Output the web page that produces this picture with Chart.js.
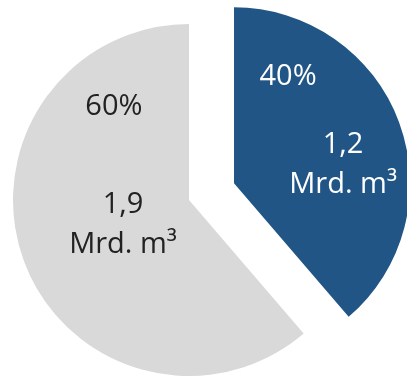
<!DOCTYPE html>
<html>
<head>
<meta charset="utf-8">
<script src="https://cdn.jsdelivr.net/npm/chart.js@4/dist/chart.umd.min.js"></script>
<style>
  html, body { margin: 0; padding: 0; background: #ffffff; }
  #wrap { width: 407px; height: 377px; }
</style>
</head>
<body>
<div id="wrap"><canvas id="c" width="407" height="377"></canvas></div>
<script>
// ---- data ----
const categories = ['Anteil A', 'Anteil B'];
const values = [1.2, 1.9];              // Mrd. m³
const percentLabels = ['40%', '60%'];
const unitLabel = 'Mrd. m³';

// ---- styles ----
const sliceColors = ['#215586', '#d9d9d9'];
const textColors = ['#ffffff', '#222222'];
const explode = [48, 0];
// label anchors: [fraction along slice angle, fraction of radius]
const pctPos = [[0.207, 0.637], [0.812, 0.644]];
const valPos = [[0.535, 0.643], [0.542, 0.382]];
const FONT = '29px "Open Sans", Lato, sans-serif';
const LINE = 40;

function sliceCenter(arc, i) {
  const mid = (arc.startAngle + arc.endAngle) / 2;
  const d = explode[i] || 0;
  return { x: arc.x + Math.cos(mid) * d, y: arc.y + Math.sin(mid) * d };
}
function polar(arc, i, pos) {
  const c = sliceCenter(arc, i);
  const a = arc.startAngle + pos[0] * (arc.endAngle - arc.startAngle);
  const r = pos[1] * arc.outerRadius;
  return { x: c.x + Math.cos(a) * r, y: c.y + Math.sin(a) * r };
}

const explodePlugin = {
  id: 'explodeSlices',
  beforeDatasetDraw(chart, args) {
    args.meta.data.forEach((arc, i) => {
      if (!arc._origDraw) arc._origDraw = arc.draw;
      arc.draw = function (ctx, area) {
        const mid = (this.startAngle + this.endAngle) / 2;
        const d = explode[i] || 0;
        ctx.save();
        ctx.translate(Math.cos(mid) * d, Math.sin(mid) * d);
        this._origDraw(ctx, area);
        ctx.restore();
      };
    });
  }
};

const labelPlugin = {
  id: 'sliceLabels',
  afterDatasetsDraw(chart) {
    const ctx = chart.ctx;
    const meta = chart.getDatasetMeta(0);
    ctx.save();
    ctx.font = FONT;
    ctx.textAlign = 'center';
    ctx.textBaseline = 'alphabetic';
    meta.data.forEach((arc, i) => {
      ctx.fillStyle = textColors[i];
      const p = polar(arc, i, pctPos[i]);
      ctx.fillText(percentLabels[i], p.x, p.y);
      const v = polar(arc, i, valPos[i]);
      ctx.fillText(values[i].toFixed(1).replace('.', ','), v.x, v.y);
      ctx.fillText(unitLabel, v.x, v.y + LINE);
    });
    ctx.restore();
  }
};

new Chart(document.getElementById('c'), {
  type: 'pie',
  data: {
    labels: categories,
    datasets: [{
      data: values,
      backgroundColor: sliceColors,
      borderWidth: 0,
      clip: false
    }]
  },
  options: {
    responsive: false,
    animation: false,
    radius: 176,
    layout: { padding: { left: 0, right: 29, top: 23, bottom: 0 } },
    plugins: {
      legend: { display: false },
      tooltip: { enabled: false }
    }
  },
  plugins: [explodePlugin, labelPlugin]
});
</script>
</body>
</html>
